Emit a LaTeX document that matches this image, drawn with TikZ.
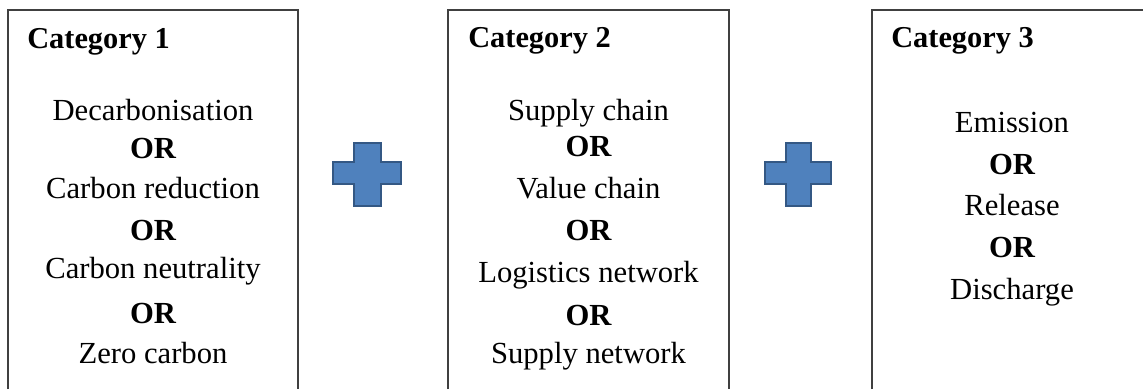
\documentclass[tikz,border=0pt]{standalone}
\usepackage{fontspec}
\setmainfont{Liberation Serif}

\definecolor{boxgray}{RGB}{64,64,64}
\definecolor{plusfill}{RGB}{79,129,189}
\definecolor{plusedge}{RGB}{52,88,132}

\tikzset{
  cattitle/.style={anchor=base west,inner sep=0pt,font=\fontsize{21.6}{25}\selectfont\bfseries},
  term/.style={anchor=base,inner sep=0pt,font=\fontsize{21.8}{25}\selectfont},
  orword/.style={anchor=base,inner sep=0pt,font=\fontsize{21.8}{25}\selectfont\bfseries},
  frame/.style={line width=1.1pt,boxgray},
  plussign/.style={line width=1.8pt,draw=plusedge,fill=plusfill,line join=miter}
}

\begin{document}
\begin{tikzpicture}
\useasboundingbox (0,0) rectangle (28.575,9.725);

%---------------------------------------------------
%frames (cut at the lower edge)
\draw[frame] (0.2,0) -- (0.2,9.475) -- (7.45,9.475) -- (7.45,0) ;
\draw[frame] (11.2,0) -- (11.2,9.475) -- (18.225,9.475) -- (18.225,0) ;
\draw[frame] (21.8,0) -- (21.8,9.475) -- (28.575,9.475) ;

%---------------------------------------------------
%plus signs
\draw[plussign] (8.85,6.15) -- (9.525,6.15) -- (9.525,5.675) -- (10.025,5.675) -- (10.025,5.125)
  -- (9.525,5.125) -- (9.525,4.575) -- (8.85,4.575) -- (8.85,5.125) -- (8.325,5.125)
  -- (8.325,5.675) -- (8.85,5.675) -- cycle ;
\draw[plussign] (19.65,6.15) -- (20.275,6.15) -- (20.275,5.675) -- (20.775,5.675) -- (20.775,5.125)
  -- (20.275,5.125) -- (20.275,4.575) -- (19.65,4.575) -- (19.65,5.125) -- (19.125,5.125)
  -- (19.125,5.675) -- (19.65,5.675) -- cycle ;

%---------------------------------------------------
%category 1
\node[cattitle] (cat1) at (0.675,8.5) {Category 1};
\node[term]   (decarb) at (3.825,6.7)  {Decarbonisation};
\node[orword] (or11)   at (3.825,5.75) {OR};
\node[term]   (cred)   at (3.825,4.75) {Carbon reduction};
\node[orword] (or12)   at (3.825,3.7)  {OR};
\node[term]   (cneut)  at (3.825,2.75) {Carbon neutrality};
\node[orword] (or13)   at (3.825,1.65) {OR};
\node[term]   (zero)   at (3.825,0.65) {Zero carbon};

%---------------------------------------------------
%category 2
\node[cattitle] (cat2) at (11.7,8.525) {Category 2};
\node[term]   (schain) at (14.7125,6.7)  {Supply chain};
\node[orword] (or21)   at (14.7125,5.8)  {OR};
\node[term]   (vchain) at (14.7125,4.75) {Value chain};
\node[orword] (or22)   at (14.7125,3.7)  {OR};
\node[term]   (lognet) at (14.7125,2.65) {Logistics network};
\node[orword] (or23)   at (14.7125,1.6)  {OR};
\node[term]   (supnet) at (14.7125,0.65) {Supply network};

%---------------------------------------------------
%category 3
\node[cattitle] (cat3) at (22.275,8.525) {Category 3};
\node[term]   (emis)   at (25.3,6.4)   {Emission};
\node[orword] (or31)   at (25.3,5.35)  {OR};
\node[term]   (rel)    at (25.3,4.325) {Release};
\node[orword] (or32)   at (25.3,3.275) {OR};
\node[term]   (disch)  at (25.3,2.225) {Discharge};

\end{tikzpicture}
\end{document}
